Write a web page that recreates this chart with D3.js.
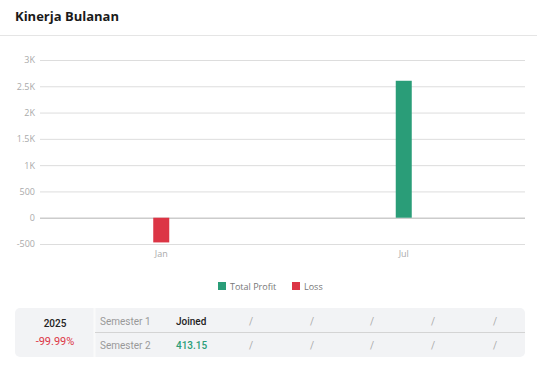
<!DOCTYPE html>
<html>
<head>
<meta charset="utf-8">
<script src="https://cdn.jsdelivr.net/npm/d3@7"></script>
<style>
  body { margin: 0; background: #fff; font-family: "Open Sans", sans-serif; }
  svg { display: block; }
</style>
</head>
<body>
<svg width="537" height="365"></svg>
<script>
// Chart data
const months = ["Jan", "Jul"];
const totalProfit = [0, 2605];
const loss = [-470, 0];
const yTicks = [-500, 0, 500, 1000, 1500, 2000, 2500, 3000];

// Summary table data
const tableYear = "2025";
const tableChange = "-99.99%";
const semesters = ["Semester 1", "Semester 2"];
const semesterFirst = ["Joined", "413.15"];
const semesterRest = [["/", "/", "/", "/", "/"], ["/", "/", "/", "/", "/"]];

const green = "#2a9d78", red = "#dc3545";
const svg = d3.select("svg");

// Header
svg.append("text")
    .attr("x", 15).attr("y", 21)
    .style("font-size", "13px").style("font-weight", "bold")
    .attr("fill", "#1a1a1a")
    .text("Kinerja Bulanan");
svg.append("line")
    .attr("x1", 0).attr("x2", 537).attr("y1", 35.5).attr("y2", 35.5)
    .attr("stroke", "#e5e5e5");

// Scales
const plot = { left: 40, right: 525, top: 60, bottom: 244 };
const x = d3.scaleBand().domain(months).range([plot.left, plot.right]);
const y = d3.scaleLinear().domain([-500, 3000]).range([plot.bottom, plot.top]);

// Grid + y labels
const gy = svg.append("g")
    .attr("transform", `translate(${plot.left},0)`)
    .call(d3.axisLeft(y).tickValues(yTicks)
        .tickSize(-(plot.right - plot.left)).tickPadding(5)
        .tickFormat(d => Math.abs(d) >= 1000 ? (d / 1000) + "K" : d));
gy.select(".domain").remove();
gy.selectAll(".tick line")
    .attr("stroke", d => d === 0 ? "#ccc" : "#ddd")
    .attr("stroke-width", d => d === 0 ? 1.5 : 1);
gy.selectAll(".tick text")
    .attr("fill", "#aaa").style("font-size", "9px")
    .style("font-family", "Open Sans, sans-serif");

// x labels
const gx = svg.append("g")
    .attr("transform", `translate(0,${plot.bottom})`)
    .call(d3.axisBottom(x).tickSize(0).tickPadding(7));
gx.select(".domain").remove();
gx.selectAll(".tick text")
    .attr("fill", "#aaa").style("font-size", "9px")
    .style("font-family", "Open Sans, sans-serif");

// Bars
const barW = 16;
const series = [
  { name: "Total Profit", color: green, values: totalProfit },
  { name: "Loss", color: red, values: loss }
];
series.forEach(s => {
  svg.append("g").selectAll("rect")
    .data(months.map((m, i) => ({ m, v: s.values[i] })).filter(d => d.v !== 0))
    .join("rect")
    .attr("x", d => x(d.m) + x.bandwidth() / 2 - barW / 2)
    .attr("width", barW)
    .attr("y", d => y(Math.max(0, d.v)))
    .attr("height", d => Math.abs(y(d.v) - y(0)))
    .attr("fill", s.color);
});

// Legend
const legend = svg.append("g").attr("transform", "translate(218,282)");
const legendX = [0, 74];
series.forEach((s, i) => {
  const lg = legend.append("g").attr("transform", `translate(${legendX[i]},0)`);
  lg.append("rect").attr("width", 8).attr("height", 8).attr("fill", s.color);
  lg.append("text").attr("x", 12).attr("y", 7.5)
    .attr("fill", "#777").style("font-size", "9px")
    .text(s.name);
});

// Summary table
const tbl = svg.append("g");
tbl.append("rect")
    .attr("x", 15).attr("y", 308).attr("width", 510).attr("height", 49)
    .attr("rx", 5).attr("fill", "#f2f3f5");
tbl.append("line")
    .attr("x1", 94.5).attr("x2", 94.5).attr("y1", 308).attr("y2", 357)
    .attr("stroke", "#fafafa").attr("stroke-width", 2);
tbl.append("line")
    .attr("x1", 95).attr("x2", 525).attr("y1", 332.5).attr("y2", 332.5)
    .attr("stroke", "#d4d4d4");
tbl.append("text")
    .attr("x", 55).attr("y", 326.5).attr("text-anchor", "middle")
    .style("font-family", "Roboto, sans-serif").style("font-size", "10px")
    .style("font-weight", 500).attr("fill", "#222")
    .text(tableYear);
tbl.append("text")
    .attr("x", 55).attr("y", 345).attr("text-anchor", "middle")
    .style("font-family", "Roboto, sans-serif").style("font-size", "11px")
    .attr("fill", red)
    .text(tableChange);

const rowY = [324.5, 349];
const slashX = [251, 312, 372, 433, 495];
semesters.forEach((sem, i) => {
  tbl.append("text")
    .attr("x", 100).attr("y", rowY[i])
    .style("font-family", "Roboto, sans-serif").style("font-size", "10px")
    .attr("fill", "#999").text(sem);
  tbl.append("text")
    .attr("x", 176).attr("y", rowY[i])
    .style("font-family", "Roboto, sans-serif").style("font-size", "10px")
    .style("font-weight", 500)
    .attr("fill", i === 0 ? "#222" : green).text(semesterFirst[i]);
  tbl.selectAll(null).data(semesterRest[i]).join("text")
    .attr("x", (d, j) => slashX[j]).attr("y", rowY[i])
    .attr("text-anchor", "middle")
    .style("font-family", "Roboto, sans-serif").style("font-size", "10px")
    .attr("fill", "#aaa").text(d => d);
});
</script>
</body>
</html>
